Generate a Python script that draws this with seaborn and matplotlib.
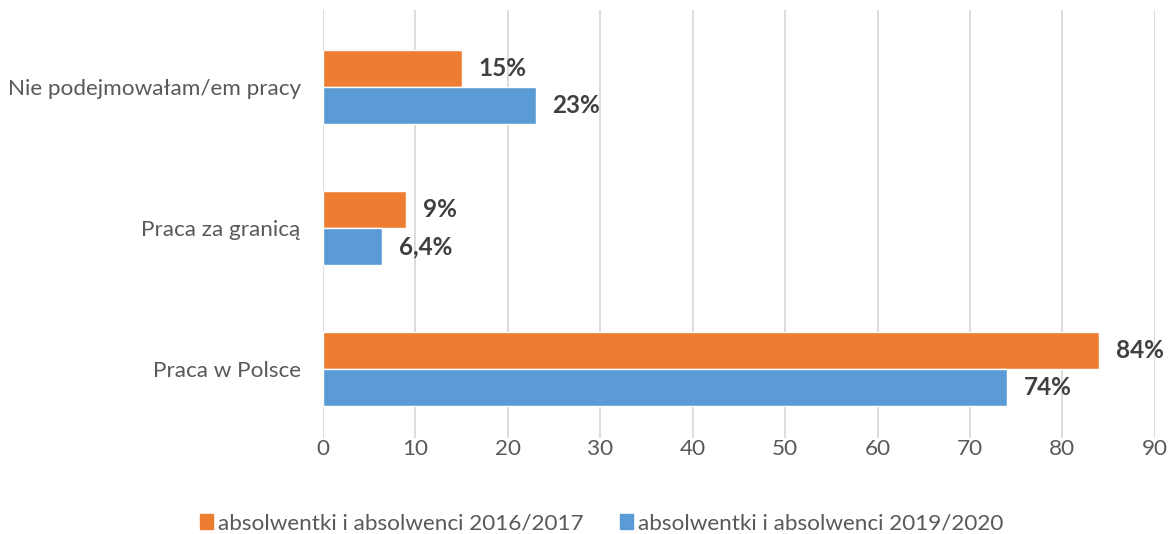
import matplotlib
matplotlib.use("Agg")
import matplotlib.pyplot as plt
import seaborn as sns
import pandas as pd
from matplotlib.patches import Patch

categories = ["Nie podejmowałam/em pracy", "Praca za granicą", "Praca w Polsce"]
series = ["absolwentki i absolwenci 2016/2017", "absolwentki i absolwenci 2019/2020"]
values_2016 = [15, 9, 84]
values_2019 = [23, 6.4, 74]
labels_2016 = ["15%", "9%", "84%"]
labels_2019 = ["23%", "6,4%", "74%"]
x_ticks = [0, 10, 20, 30, 40, 50, 60, 70, 80, 90]

colors = {series[0]: "#ED7D31", series[1]: "#5B9BD5"}

df = pd.DataFrame({
    "kategoria": categories * 2,
    "seria": [series[0]] * 3 + [series[1]] * 3,
    "wartosc": values_2016 + values_2019,
})

sns.set_style("white")
plt.rcParams["font.family"] = ["Lato", "DejaVu Sans"]

fig = plt.figure(figsize=(11.7, 5.34), dpi=100)
ax = fig.add_axes([0.276, 0.18, 0.711, 0.801])

sns.barplot(data=df, y="kategoria", x="wartosc", hue="seria", order=categories,
            hue_order=series, palette=colors, orient="h", width=0.525,
            dodge=True, legend=False, ax=ax, saturation=1)

for container, labs in zip(ax.containers, [labels_2016, labels_2019]):
    ax.bar_label(container, labels=labs, padding=12, fontsize=17.5,
                 fontweight="bold", color="#404040")

ax.set_xlim(0, 90)
ax.set_xticks(x_ticks)
ax.set_ylim(2.49, -0.546)
ax.grid(axis="x", color="#D9D9D9", linewidth=1.3)
ax.set_axisbelow(True)
for s in ax.spines.values():
    s.set_visible(False)
ax.set_xlabel("")
ax.set_ylabel("")
ax.tick_params(axis="both", length=0, labelsize=16.2, labelcolor="#595959")
ax.tick_params(axis="y", pad=16)
ax.tick_params(axis="x", pad=1)

handles = [Patch(color=colors[s], label=s) for s in series]
fig.legend(handles=handles, loc="center", bbox_to_anchor=(0.514, 0.02),
           ncol=2, frameon=False, fontsize=16.2, labelcolor="#595959",
           handlelength=0.6, handleheight=0.6, handletextpad=0.2,
           columnspacing=1.6)

fig.savefig("out.png", dpi=100)
